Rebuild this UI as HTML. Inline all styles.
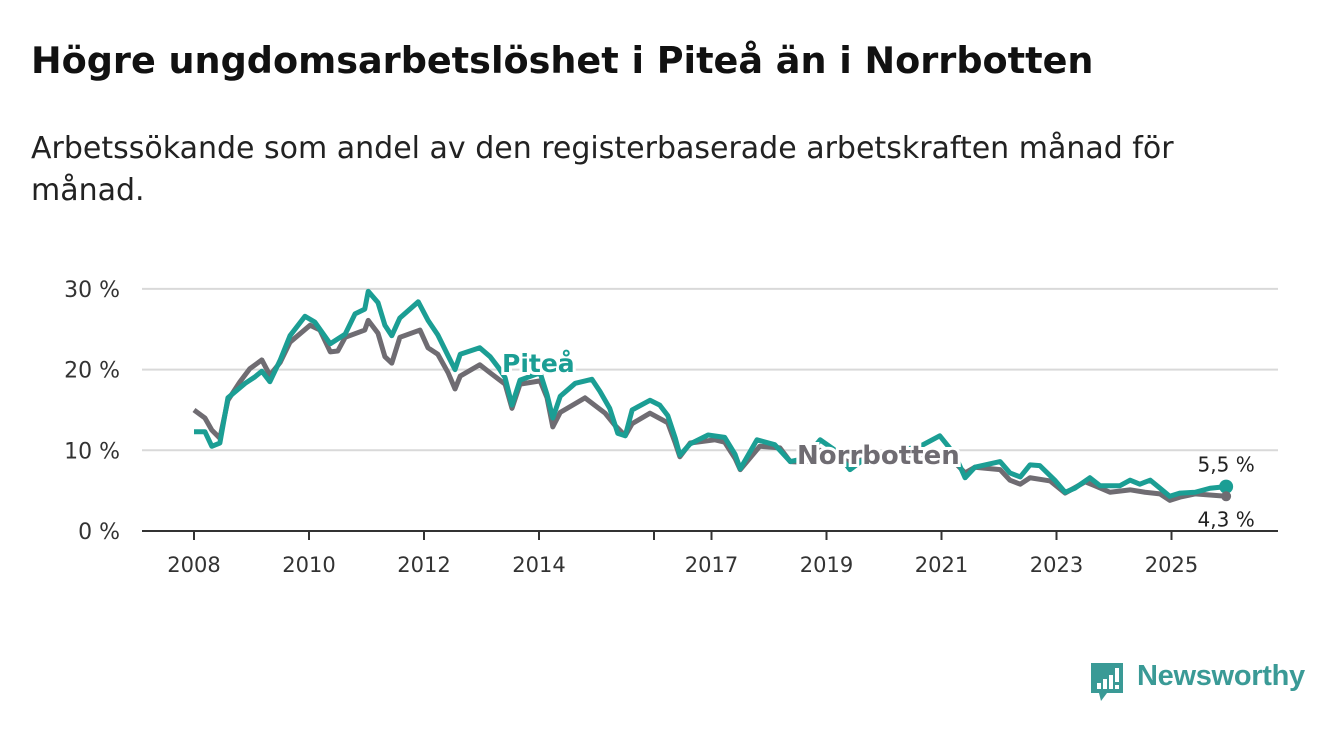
<!DOCTYPE html>
<html><head><meta charset="utf-8"><style>
body{margin:0;background:#fff;width:1340px;height:734px;overflow:hidden;font-family:"DejaVu Sans","Liberation Sans",sans-serif;}
#title{position:absolute;left:31px;top:39px;font-size:36.6px;font-weight:bold;color:#111;margin:0;white-space:nowrap;}
#sub{position:absolute;left:31px;top:128px;font-size:30px;color:#222;line-height:42px;width:1290px;}
svg{position:absolute;left:0;top:0;}
</style></head><body>
<h1 id="title">Högre ungdomsarbetslöshet i Piteå än i Norrbotten</h1>
<div id="sub">Arbetssökande som andel av den registerbaserade arbetskraften månad för<br>månad.</div>
<svg id="chart" width="1340" height="734"></svg>
<div style="position:absolute;left:1089px;top:661px;">
<svg width="36" height="42" style="position:static"><path d="M2 2h32v30H18l-6 8-2-8H2z" fill="#3a9a96"/><rect x="8" y="22" width="4" height="6" fill="#fff"/><rect x="14" y="18" width="4" height="10" fill="#fff"/><rect x="20" y="14" width="4" height="14" fill="#fff"/><rect x="26" y="7" width="4" height="14" fill="#fff"/><rect x="26" y="24" width="4" height="4" fill="#fff"/></svg>
</div>
<div style="position:absolute;left:1137px;top:660px;font-size:29px;font-weight:bold;color:#3a9a96;font-family:'Liberation Sans',sans-serif;letter-spacing:-0.3px;">Newsworthy</div>
<script>
const yTicks=[0,10,20,30];
const yTickLabels=["0 %","10 %","20 %","30 %"];
const xTicks=[2008,2010,2012,2014,2016,2017,2019,2021,2023,2025];
const xTickLabels=["2008","2010","2012","2014","","2017","2019","2021","2023","2025"];
const piteaDates=[2008.00,2008.19,2008.31,2008.45,2008.59,2008.89,2009.06,2009.18,2009.32,2009.50,2009.67,2009.93,2010.10,2010.37,2010.63,2010.80,2010.97,2011.03,2011.20,2011.32,2011.44,2011.58,2011.90,2012.07,2012.24,2012.42,2012.54,2012.63,2012.97,2013.15,2013.29,2013.41,2013.53,2013.67,2014.02,2014.14,2014.24,2014.37,2014.63,2014.92,2015.06,2015.23,2015.37,2015.50,2015.62,2015.93,2016.10,2016.24,2016.37,2016.45,2016.63,2016.94,2017.23,2017.41,2017.50,2017.79,2018.10,2018.37,2018.63,2018.89,2019.15,2019.41,2019.67,2019.93,2020.28,2020.63,2020.97,2021.23,2021.41,2021.58,2022.02,2022.19,2022.37,2022.54,2022.71,2022.97,2023.15,2023.32,2023.58,2023.76,2024.10,2024.28,2024.45,2024.63,2024.80,2024.97,2025.15,2025.41,2025.67,2025.95];
const piteaValues=[12.3,12.3,10.5,10.9,16.5,18.3,19.1,19.8,18.5,21.2,24.2,26.6,25.9,23.2,24.4,26.9,27.5,29.7,28.3,25.5,24.2,26.4,28.4,26.1,24.3,21.7,20.0,21.9,22.7,21.6,20.3,19.0,15.6,18.7,19.6,16.9,14.0,16.7,18.3,18.8,17.3,15.2,12.1,11.8,15.0,16.2,15.6,14.3,11.5,9.4,10.8,11.9,11.6,9.5,7.7,11.3,10.7,8.6,9.0,11.3,10.0,7.6,9.0,9.5,10.0,10.5,11.8,9.5,6.6,7.9,8.6,7.2,6.7,8.2,8.1,6.3,4.8,5.3,6.6,5.6,5.6,6.3,5.8,6.3,5.3,4.3,4.7,4.8,5.3,5.5];
const norrDates=[2008.00,2008.19,2008.31,2008.45,2008.59,2008.80,2008.97,2009.18,2009.32,2009.50,2009.67,2010.02,2010.19,2010.37,2010.50,2010.63,2010.97,2011.03,2011.20,2011.32,2011.44,2011.58,2011.93,2012.07,2012.24,2012.42,2012.54,2012.63,2012.97,2013.15,2013.41,2013.53,2013.67,2014.02,2014.14,2014.24,2014.37,2014.80,2015.15,2015.32,2015.50,2015.62,2015.93,2016.24,2016.37,2016.45,2016.63,2017.06,2017.23,2017.41,2017.50,2017.84,2018.19,2018.37,2018.63,2018.89,2019.41,2019.93,2020.63,2021.06,2021.23,2021.41,2021.58,2022.02,2022.19,2022.37,2022.54,2022.89,2023.15,2023.50,2023.67,2023.93,2024.28,2024.54,2024.80,2024.97,2025.15,2025.41,2025.95];
const norrValues=[15.0,14.0,12.5,11.5,16.2,18.5,20.1,21.2,19.3,20.9,23.4,25.5,24.9,22.2,22.3,24.0,24.9,26.1,24.5,21.6,20.8,24.0,24.9,22.7,21.9,19.6,17.6,19.2,20.6,19.6,18.2,15.2,18.2,18.6,16.5,12.9,14.7,16.5,14.6,13.1,11.8,13.3,14.6,13.4,10.9,9.2,10.9,11.3,11.0,9.0,7.6,10.5,10.3,8.6,8.5,10.0,8.5,9.3,9.5,9.8,8.5,7.2,7.9,7.6,6.3,5.8,6.6,6.2,4.7,6.1,5.6,4.8,5.1,4.8,4.6,3.8,4.2,4.6,4.3];

const svg=document.getElementById('chart');
const NS='http://www.w3.org/2000/svg';
const X=t=>194+(t-2008)*57.5;
const Y=v=>531-v*8.07;
function mk(tag,attrs,parent){const e=document.createElementNS(NS,tag);for(const k in attrs)e.setAttribute(k,attrs[k]);(parent||svg).appendChild(e);return e;}
yTicks.forEach((v,i)=>{
  if(v>0){const g=mk('line',{x1:142,x2:1278,y1:Y(v),y2:Y(v),stroke:'#d9d9d9','stroke-width':2});
  
  }
  const t=mk('text',{x:120,y:Y(v)+8,'text-anchor':'end','font-size':22,fill:'#333'});
  t.textContent=yTickLabels[i];
  
  
});
const ax=mk('line',{x1:142,x2:1278,y1:531,y2:531,stroke:'#333','stroke-width':2});


xTicks.forEach((t,i)=>{
  const tk=mk('line',{x1:X(t),x2:X(t),y1:531,y2:540,stroke:'#333','stroke-width':2});
  
  
  if(xTickLabels[i]){const l=mk('text',{x:X(t),y:572,'text-anchor':'middle','font-size':21,fill:'#333'});
  l.textContent=xTickLabels[i];
  
  }
});
function line(d,v,c,name){
  const p=mk('polyline',{points:d.map((t,i)=>X(t)+','+Y(v[i])).join(' '),fill:'none',stroke:c,'stroke-width':5,'stroke-linejoin':'round'});
  
  
}
line(norrDates,norrValues,'#6f6c72','norrbotten-line');
line(piteaDates,piteaValues,'#1b9e94','pitea-line');
const n=piteaDates.length-1;
const dot=mk('circle',{cx:X(piteaDates[n]),cy:Y(piteaValues[n]),r:7,fill:'#1b9e94'});


const m=norrDates.length-1;
const dot2=mk('circle',{cx:X(norrDates[m]),cy:Y(norrValues[m]),r:5,fill:'#6f6c72'});


const fmt=v=>v.toFixed(1).replace('.',',')+' %';
const e1=mk('text',{x:X(piteaDates[n]),y:Y(piteaValues[n])-15,'text-anchor':'middle','font-size':20,fill:'#222'});
e1.textContent=fmt(piteaValues[n]);


const e2=mk('text',{x:X(norrDates[m]),y:Y(norrValues[m])+30,'text-anchor':'middle','font-size':20,fill:'#222'});
e2.textContent=fmt(norrValues[m]);


const l1=mk('text',{x:502,y:372,'font-size':25,'font-weight':'bold',fill:'#1b9e94',stroke:'#fff','stroke-width':6,'paint-order':'stroke'});
l1.textContent='Piteå';


const l2=mk('text',{x:797,y:464,'font-size':26,'font-weight':'bold',fill:'#6f6c72',stroke:'#fff','stroke-width':6,'paint-order':'stroke'});
l2.textContent='Norrbotten';


</script>
</body></html>
